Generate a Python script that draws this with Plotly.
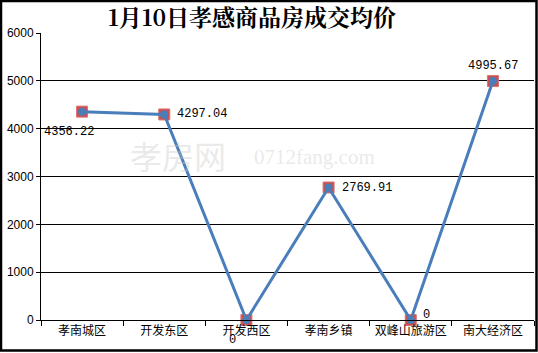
import plotly.graph_objects as go

categories = ["孝南城区", "开发东区", "开发西区", "孝南乡镇", "双峰山旅游区", "南大经济区"]
prices = [4356.22, 4297.04, 0, 2769.91, 0, 4995.67]
label_text = ["4356.22", "4297.04", "0", "2769.91", "0", "4995.67"]
y_ticks = [0, 1000, 2000, 3000, 4000, 5000, 6000]

W, H = 538, 353
L, R, T, B = 41, 4, 33, 33
pw, ph = W - L - R, H - T - B

# label offsets (pixels) relative to each point
label_dx = [-13, 38, -14, 38, 16, 0]
label_dy = [-20, 0, -20, 0, 5, 15]

fig = go.Figure()
fig.add_trace(go.Scatter(
    x=categories, y=prices, mode="markers",
    marker=dict(symbol="square", size=11, color="#C9504E",
                line=dict(width=1, color="#E07070")),
    hoverinfo="skip", showlegend=False, cliponaxis=False))
fig.add_trace(go.Scatter(
    x=categories, y=prices, mode="lines+markers",
    line=dict(color="#4A7EBB", width=3),
    marker=dict(symbol="circle", size=8, color="#4A7EBB"),
    cliponaxis=False, showlegend=False))

annotations = [
    dict(text=t, x=c, y=v, xref="x", yref="y", showarrow=False,
         xshift=dx, yshift=dy, xanchor="center", yanchor="middle",
         font=dict(family="Liberation Mono, DejaVu Sans Mono, monospace", size=12, color="#000"))
    for c, v, t, dx, dy in zip(categories, prices, label_text, label_dx, label_dy)
]
annotations += [
    dict(text="孝房网", x=(128 - L) / pw, y=(H - B - 155) / ph, xref="paper", yref="paper",
         xanchor="left", yanchor="middle", showarrow=False,
         font=dict(size=32, color="rgba(200,200,200,0.4)", family="Noto Sans CJK SC")),
    dict(text="0712fang.com", x=(252 - L) / pw, y=(H - B - 157) / ph, xref="paper", yref="paper",
         xanchor="left", yanchor="middle", showarrow=False,
         font=dict(size=21, color="rgba(200,200,200,0.4)", family="Liberation Serif")),
]

fig.update_layout(
    width=W, height=H, margin=dict(l=L, r=R, t=T, b=B),
    paper_bgcolor="white", plot_bgcolor="white",
    font=dict(family="Noto Sans CJK SC, sans-serif", color="#000"),
    title=dict(text="<b>1月10日孝感商品房成交均价</b>", x=252 / W, xanchor="center",
               y=1 - 18 / H, yanchor="middle",
               font=dict(family="Noto Serif CJK SC, Noto Sans CJK SC, serif", size=23, color="#000")),
    xaxis=dict(type="category", showgrid=False, showline=True, linecolor="#000", linewidth=1,
               ticks="outside", tickson="boundaries", ticklen=5, tickcolor="#000",
               tickfont=dict(family="Noto Sans CJK SC, sans-serif", size=12),
               range=[-0.5, 5.5], fixedrange=True),
    yaxis=dict(range=[0, 6000], tickvals=y_ticks, showgrid=True, gridcolor="#000", gridwidth=1,
               showline=True, linecolor="#000", linewidth=1, ticks="outside", ticklen=4,
               tickcolor="#000", zeroline=False,
               tickfont=dict(family="Liberation Sans, Arial, sans-serif", size=12)),
    shapes=[dict(type="rect", xref="paper", yref="paper",
                 x0=(1 - L) / pw, x1=(536.5 - L) / pw,
                 y0=(H - B - 350.5) / ph, y1=1 + (T - 1) / ph,
                 line=dict(color="#000", width=2.5), fillcolor="rgba(0,0,0,0)", layer="above")],
    annotations=annotations,
)

fig.write_html("out.html")
